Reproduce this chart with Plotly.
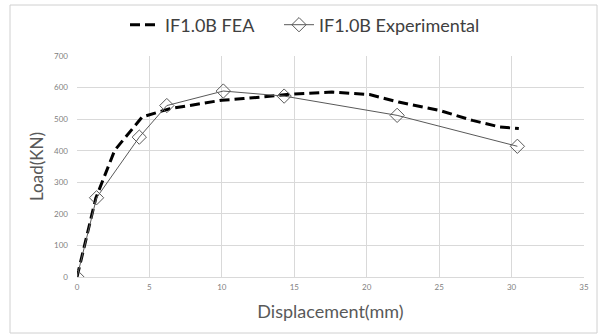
import plotly.graph_objects as go

# FEA curve (dashed)
fea_x = [0, 1.3, 2.6, 4.5, 6.4, 10.0, 11.5, 15.0, 17.6, 20.2, 22.2, 25.0, 27.3, 29.2, 30.5]
fea_y = [0, 250, 401, 507, 533, 560, 565, 580, 586, 578, 554, 528, 496, 475, 470]

# Experimental (diamond markers)
exp_x = [0, 1.35, 4.3, 6.2, 10.1, 14.3, 22.1, 30.4]
exp_y = [0, 251, 443, 543, 589, 573, 512, 414]

x_ticks = [0, 5, 10, 15, 20, 25, 30, 35]
y_ticks = [0, 100, 200, 300, 400, 500, 600, 700]

fig = go.Figure()
fig.add_trace(go.Scatter(
    x=fea_x, y=fea_y, mode="lines", name="IF1.0B FEA",
    line=dict(color="black", width=3, dash="10px,5px"),
    legend="legend",
))
fig.add_trace(go.Scatter(
    x=exp_x, y=exp_y, mode="lines+markers", name="IF1.0B Experimental",
    line=dict(color="#595959", width=1),
    marker=dict(symbol="diamond-open", size=11, color="#595959", line=dict(width=1)),
    legend="legend2",
))

W, H = 604, 336
L, R, T, B = 77, 20, 56, 59
pw, ph = W - L - R, H - T - B

def px_x(p):
    return (p - L) / pw

def px_y(p):
    return (H - B - p) / ph

fig.add_shape(type="rect", xref="paper", yref="paper",
              x0=px_x(10), x1=px_x(597), y0=px_y(333), y1=px_y(5),
              line=dict(color="#d0d0d0", width=1), layer="below")

leg_common = dict(orientation="h", xanchor="left", yanchor="middle",
                  font=dict(size=18, color="#404040"), itemwidth=30,
                  bgcolor="rgba(0,0,0,0)")

fig.update_layout(
    width=W, height=H,
    margin=dict(l=L, r=R, t=T, b=B, autoexpand=False),
    paper_bgcolor="white", plot_bgcolor="white",
    font=dict(family="Lato", color="#595959"),
    showlegend=True,
    legend=dict(x=px_x(125), y=px_y(25), **leg_common),
    legend2=dict(x=px_x(279), y=px_y(25), **leg_common),
    xaxis=dict(range=[0, 35], tickvals=x_ticks, showgrid=True, gridcolor="#d9d9d9",
               zeroline=False, showline=True, linecolor="#d9d9d9",
               ticklabelstandoff=2,
               tickfont=dict(size=8, color="#7f7f7f"),
               title=dict(text="Displacement(mm)", font=dict(size=18, color="#595959"), standoff=14)),
    yaxis=dict(range=[0, 700], tickvals=y_ticks, showgrid=True, gridcolor="#d9d9d9",
               zeroline=False, showline=False,
               ticklabelstandoff=8,
               tickfont=dict(size=8, color="#7f7f7f"),
               title=dict(text="Load(KN)", font=dict(size=17, color="#595959"), standoff=6)),
)

fig.write_html("out.html", post_script="document.body.style.margin='0';",
               config={"displayModeBar": False})
